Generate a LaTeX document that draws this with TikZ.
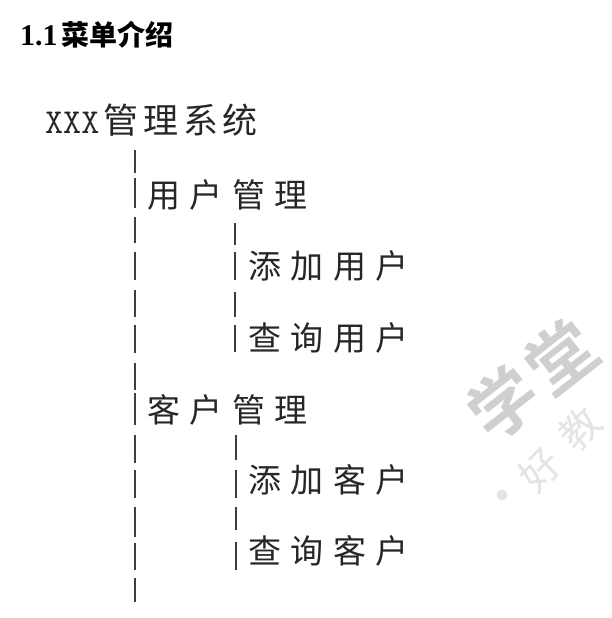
\documentclass[tikz,border=0pt]{standalone}
\usepackage{fontspec}
\newfontfamily\cjk{Noto Sans CJK SC}
\newfontfamily\cjkb{Noto Sans CJK SC Bold}
\newfontfamily\cjkwide[LetterSpace=29]{Noto Sans CJK SC}
\newfontfamily\cjkmid[LetterSpace=14]{Noto Sans CJK SC}
\newfontfamily\serifb{Liberation Serif}
\definecolor{ink}{HTML}{262626}
\definecolor{bar}{HTML}{3C3C44}
\definecolor{wmark}{HTML}{CFCFCF}
\definecolor{wmarklight}{HTML}{E4E4E4}
\tikzset{
  label/.style={inner sep=0pt, outer sep=0pt, anchor=west, text=ink,
    font=\fontsize{33}{33}\selectfont\cjkwide},
  pipe/.style={draw=bar, line width=1.7pt},
}
\begin{document}
\begin{tikzpicture}[x=1pt,y=-1pt]
\useasboundingbox (0,0) rectangle (612,618);
\fill[white] (0,0) rectangle (612,618);
% watermark
\begin{scope}
\clip (463,0) rectangle (612,618);
\node[text=wmark, rotate=38, inner sep=0pt, font=\fontsize{68}{68}\selectfont\cjkb] (wm) at (532,380) {学\kern6pt堂};
\node[text=wmarklight, rotate=45, inner sep=0pt, font=\fontsize{40}{40}\selectfont\cjk] (wm2) at (560,449) {好\kern17pt教};
\fill[wmarklight] (502,495) circle (5.5);
\end{scope}
% title
\node[inner sep=0pt, anchor=base west, text=black] (title) at (20,46)
  {\fontsize{30}{30}\selectfont\serifb\bfseries 1.1\kern4pt\fontsize{28}{28}\selectfont\cjkb 菜单介绍};
% root
\node[inner sep=0pt, anchor=base west, text=ink] (root) at (45,133)
  {\fontsize{35}{35}\selectfont\ttfamily XXX\kern4pt\fontsize{35}{35}\selectfont\cjkmid 管理系统};
% labels
\node[label] (user)  at (147,195) {用户管理};
\node[label] (uadd)  at (248,266) {添加用户};
\node[label] (uqry)  at (248,338) {查询用户};
\node[label] (cust)  at (147,410) {客户管理};
\node[label] (cadd)  at (248,480) {添加客户};
\node[label] (cqry)  at (248,551) {查询客户};
% pipes, column 1
\foreach \a/\b in {150/173,178/208,217/243,252/280,290/317,325/353,363/390,393/425,435/463,470/498,507/537,543/570,578/602}
  \draw[pipe] (135,\a) -- (135,\b);
% pipes, column 2
\foreach \a/\b in {223/245,252/280,292/317,325/352}
  \draw[pipe] (235,\a) -- (235,\b);
\foreach \a/\b in {435/460,470/498,507/530,542/570}
  \draw[pipe] (236,\a) -- (236,\b);
\end{tikzpicture}
\end{document}
